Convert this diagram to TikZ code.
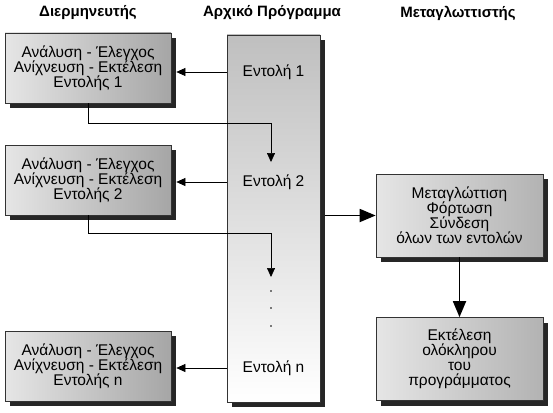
\documentclass[tikz,border=0pt]{standalone}
\usepackage{fontspec}
\setmainfont{Liberation Sans}
\usetikzlibrary{shadows,arrows.meta,calc}

\begin{document}
\begin{tikzpicture}[
  x=1pt, y=-1pt,
  head/.style={font=\bfseries\fontsize{15}{16}\selectfont},
  txt/.style={font=\fontsize{15.5}{15}\selectfont},
  step box/.style={rectangle,draw=black!80,line width=0.7pt,left color=gray!20,right color=gray!70,
    align=center,font=\fontsize{15.5}{15}\selectfont,minimum width=166pt,minimum height=70pt,
    drop shadow={shadow xshift=5pt,shadow yshift=-5pt,fill=black!85,opacity=1}},
  comp box/.style={step box,left color=gray!20,right color=gray!60,minimum width=167pt,minimum height=83pt},
  prog/.style={rectangle,draw=black!80,line width=0.7pt,top color=gray!50,bottom color=white,
    minimum width=93pt,minimum height=367pt,
    drop shadow={shadow xshift=5pt,shadow yshift=-5pt,fill=black!85,opacity=1}},
  flow/.style={line width=0.7pt,-{Triangle[length=9pt,width=8pt]}},
  bigflow/.style={line width=1.8pt,-{Triangle[length=16pt,width=13pt]}}
]
  \useasboundingbox (0,0) rectangle (553,412);
  \node[head] (hint) at (88,13) {Διερμηνευτής};
  \node[head] (hprog) at (272,13) {Αρχικό Πρόγραμμα};
  \node[head] (hcomp) at (458,13) {Μεταγλωττιστής};
  \node[prog] (prog) at (273.5,218.5) {};
  \node[txt] (e1) at (273.5,72) {Εντολή 1};
  \node[txt] (e2) at (273.5,182) {Εντολή 2};
  \node[txt] (en) at (273.5,368) {Εντολή n};
  \node[step box] (b1) at (88,68) {Ανάλυση - Έλεγχος\\Ανίχνευση - Εκτέλεση\\Εντολής 1};
  \node[step box] (b2) at (88,180) {Ανάλυση - Έλεγχος\\Ανίχνευση - Εκτέλεση\\Εντολής 2};
  \node[step box] (bn) at (88,366) {Ανάλυση - Έλεγχος\\Ανίχνευση - Εκτέλεση\\Εντολής n};
  \node[comp box] (comp) at (459.5,215.5) {Μεταγλώττιση\\Φόρτωση\\Σύνδεση\\όλων των εντολών};
  \node[comp box] (run) at (459.5,359) {Εκτέλεση\\ολόκληρου\\του\\προγράμματος};
  \coordinate (more) at (271,277);
  \draw[flow] (prog.west |- e1) -- ($(b1.east |- e1)+(5,0)$);
  \draw[flow] (prog.west |- e2) -- ($(b2.east |- e2)+(5,0)$);
  \draw[flow] (prog.west |- en) -- ($(bn.east |- en)+(5,0)$);
  \draw[flow] (b1.south) -- ++(0,20) -| ($(e2.north)+(-2.5,-9)$);
  \draw[flow] (b2.south) -- ++(0,18) -| (more);
  \foreach \y in {291,308,326}
    \fill (271,\y) circle (0.9pt);
  \draw[bigflow] ($(prog.east |- comp)+(5,0)$) -- (comp.west);
  \draw[bigflow] (comp.south) -- (run.north);
\end{tikzpicture}
\end{document}
